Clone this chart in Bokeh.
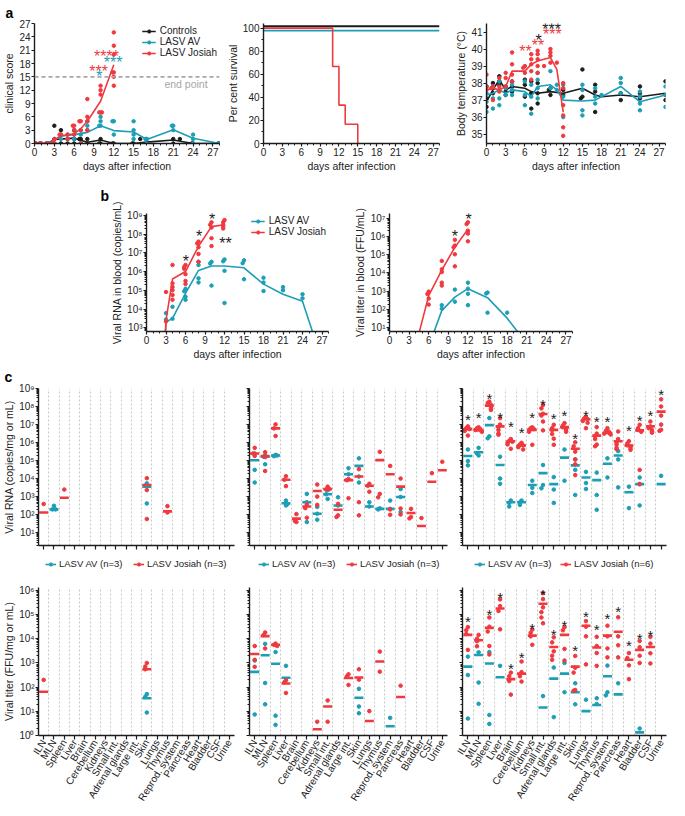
import math
from bokeh.plotting import figure
from bokeh.layouts import column, row
from bokeh.models import (FixedTicker, Span, Label, LabelSet, Legend, LegendItem,
                          CustomJSTickFormatter, ColumnDataSource, Range1d)
from bokeh.core.properties import value
from bokeh.embed import file_html
from bokeh.resources import INLINE

FONT = "Liberation Sans"
TEAL = "#1c9eb6"
RED = "#f0393e"
BLACK = "#1c1c1c"
GREY = "#a6a6a6"
NAN = float("nan")

# ======================= DATA =======================
DAY_TICKS = list(range(0, 28, 3))

# ---- a1: clinical score, individual animals per day ----
score_ctrl = {0: [0, 0, 0], 1: [0, 0], 2: [0, 0], 3: [4, 1, 0], 4: [3, 0], 5: [1, 0], 6: [3, 1, 0],
              7: [1, 1, 0], 8: [1, 0], 10: [1, 0, 0], 12: [0, 0], 15: [0, 0], 16: [1], 17: [1, 0],
              21: [1, 0], 22: [1], 24: [0, 0], 28: [0, 0, 0]}
score_av = {0: [0, 0, 0], 1: [0, 0], 2: [0, 0], 3: [0, 0], 4: [2, 1], 5: [2, 1], 6: [3, 2, 1],
            7: [3, 2, 0], 8: [5, 4, 3], 10: [6, 5, 4, 4], 12: [5, 5, 2], 15: [5, 3, 2, 1],
            17: [1, 1, 0], 21: [4, 4, 3], 24: [2, 1, 0], 28: [0, 0]}
score_jo = {0: [0, 0, 0], 1: [0, 0], 2: [0, 0], 3: [1, 0], 4: [2, 2], 5: [2, 1], 6: [4, 4, 3, 2],
            7: [5, 5, 3, 0], 8: [10, 6, 5, 3], 10: [13, 12, 11, 7, 7, 7],
            12: [25, 22, 20, 16, 16, 15, 13]}
score_days_ctrl = [0, 2, 3, 6, 8, 10, 12, 15, 17, 21, 24, 28]
score_mean_ctrl = [0, 0, 0.9, 1.2, 0.3, 0.8, 0, 0, 0.3, 0.8, 0, 0]
score_days_av = [0, 2, 4, 6, 8, 10, 12, 15, 17, 21, 24, 28]
score_mean_av = [0, 0, 1.7, 2.0, 2.5, 4.0, 2.9, 2.6, 0.9, 3.1, 1.2, 0]
score_days_jo = [0, 2, 3, 4, 6, 7, 8, 10, 12]
score_mean_jo = [0, 0, 0.7, 1.7, 2.2, 3.3, 5.0, 9.5, 17.7]
score_star_x = [9.7, 9.8, 10.9, 11.9]
score_star_y = [17.2, 15.9, 20.4, 19.1]
score_star_t = ["***", "*", "****", "***"]
score_star_c = [RED, TEAL, RED, TEAL]
END_POINT = 15

# ---- a2: survival ----
surv_days_ctrl = [0, 28]
surv_ctrl = [100, 100]
surv_days_av = [0, 28]
surv_av = [100, 100]
surv_days_jo = [0, 11, 12, 13, 15]
surv_jo = [100, 66.7, 33.3, 16.7, 0]
SURV_OFFSET = {"ctrl": 1.6, "av": -2.2, "jo": 0.0}

# ---- a3: body temperature ----
temp_ctrl = {0: [36.6, 37.8, 37.1], 1: [38.0, 37.7, 37.4], 2: [38.4, 38.1, 37.9], 3: [37.3, 37.8, 37.5],
             4: [38.1, 37.8, 37.5], 6: [38.2, 37.9, 37.2], 7: [38.1, 37.4, 36.5], 8: [38.0, 37.4, 36.8],
             10: [37.7, 37.6, 37.3], 12: [37.6, 37.3], 15: [38.8, 37.2, 37.1], 17: [37.9, 37.5, 36.3],
             21: [37.4, 37.0], 24: [37.8, 37.4, 37.1], 28: [38.1, 37.3, 37.0]}
temp_av = {0: [37.4, 36.9, 36.3], 1: [37.8, 37.1, 36.5], 2: [38.1, 37.6, 37.1, 36.7], 3: [37.7, 37.3],
           4: [37.9, 37.6, 37.3], 6: [38.1, 37.3, 36.7], 7: [37.9, 37.2, 36.2], 8: [38.6, 38.2, 37.7, 37.1],
           10: [38.7, 37.7], 11: [37.9, 37.6], 12: [37.9, 37.2, 36.0], 15: [37.9, 37.6, 36.4, 36.1],
           17: [37.7, 37.2, 36.8], 18: [37.3], 21: [38.3, 38.0, 37.4], 24: [37.5, 37.2, 36.8, 36.4],
           28: [37.8, 37.3, 36.6]}
temp_jo = {0: [38.5, 37.8, 37.6], 1: [37.8, 37.7, 37.0], 2: [38.3, 37.8, 37.5], 3: [38.6, 38.3, 37.8],
           4: [39.8, 39.1, 38.5, 38.1], 6: [39.0, 38.9, 38.6], 7: [39.7, 39.4, 39.1, 38.7, 38.2],
           8: [39.9, 39.7, 39.4, 39.0, 38.6], 9: [39.0], 10: [40.0, 39.8, 39.6, 39.2], 11: [39.2],
           12: [38.0, 37.7, 36.7, 36.1, 35.4, 34.9]}
temp_days_ctrl = [0, 1, 2, 3, 4, 6, 7, 8, 10, 12, 15, 17, 18, 21, 24, 28]
temp_mean_ctrl = [36.9, 37.6, 38.2, 37.6, 37.8, 37.7, 37.5, 37.4, 37.5, 37.4, 37.7, 37.3, 37.2, 37.3, 37.2, 37.4]
temp_days_av = [0, 1, 2, 3, 4, 6, 7, 8, 10, 11, 12, 15, 17, 21, 24, 28]
temp_mean_av = [37.3, 37.4, 37.6, 37.4, 37.6, 37.5, 37.2, 37.8, 37.9, 37.6, 37.0, 36.95, 37.0, 37.8, 36.9, 37.3]
temp_days_jo = [0, 1, 2, 3, 4, 6, 7, 8, 10, 11, 12]
temp_mean_jo = [37.6, 37.7, 37.6, 37.8, 38.7, 38.7, 39.1, 39.3, 39.5, 38.8, 36.3]
temp_star_x = [6.1, 8.05, 8.15, 10.2, 10.3]
temp_star_y = [40.09, 40.47, 40.75, 41.38, 41.08]
temp_star_t = ["**", "**", "*", "***", "***"]
temp_star_c = [RED, RED, BLACK, BLACK, RED]

# ---- b1: viral RNA in blood (log10 copies/mL) ----
rna_blood_av = {3: [3.78, 3.44], 4: [4.12, 3.48], 6: [5.08, 4.95, 4.66, 4.49], 8: [6.52, 6.35, 5.64, 5.42],
                10: [6.52, 6.43, 5.25], 12: [6.65, 6.55, 6.04, 4.32], 15: [6.6, 6.45, 5.59],
                18: [5.67, 5.42, 4.96], 21: [5.17, 5.0], 24: [4.79, 4.57]}
rna_blood_jo = {3: [4.91, 3.34], 4: [6.35, 5.37, 5.17, 5.0, 4.75, 4.5], 6: [6.35, 6.25, 6.15, 5.86, 5.5, 5.34],
                8: [7.6, 7.5, 7.3, 6.94, 6.52], 10: [8.63, 8.5, 8.35, 7.78, 7.36],
                12: [8.75, 8.63, 8.5, 8.4, 8.3]}
rna_days_av = [2.8, 3, 4, 6, 8, 10, 12, 15, 18, 21, 24, 26]
rna_mean_av = [2.0, 3.3, 3.5, 4.83, 6.06, 6.3, 6.3, 6.2, 5.33, 4.79, 4.41, 2.3]
rna_days_jo = [2.8, 3, 4, 6, 8, 10, 12]
rna_mean_jo = [2.0, 3.4, 5.6, 6.0, 7.35, 8.4, 8.5]
rna_star_x = [6.05, 8.08, 10.1, 12.15]
rna_star_y = [6.77, 8.07, 9.0, 7.73]
rna_star_t = ["*", "*", "*", "**"]

# ---- b2: viral titer in blood (log10 FFU/mL) ----
tit_blood_av = {8: [2.24, 2.05], 10: [3.09, 2.43], 12: [3.47, 3.14, 2.86, 2.24], 15: [2.93, 2.88, 1.83],
                18: [1.83]}
tit_blood_jo = {6: [2.98, 2.85, 2.6, 2.27], 8: [4.66, 4.2, 4.05, 3.47, 3.31], 10: [5.81, 5.5, 5.4, 5.02, 4.36],
                12: [6.77, 6.67, 6.31, 6.15, 5.73]}
tit_days_av = [6, 8, 10, 12, 15, 18, 20]
tit_mean_av = [0.0, 1.94, 2.68, 3.14, 2.65, 1.53, 0.6]
tit_days_jo = [4, 6, 8, 10, 12]
tit_mean_jo = [0.0, 2.76, 4.16, 5.40, 6.39]
tit_star_x = [10.0, 12.1]
tit_star_y = [6.23, 7.13]
tit_star_t = ["*", "*"]

# ---- c: tissues ----
TISSUES = ["ILN", "MLN", "Spleen", "Liver", "Brain", "Cerebellum", "Kidneys", "Small int.",
           "Adrenal glands", "Large int.", "Skin", "Lungs", "Thymus", "Reprod. system",
           "Pancreas", "Heart", "Bladder", "CSF", "Urine"]

# viral RNA, log10 copies/mg or mL  (left / middle / right columns)
rna1_av = {"MLN": [2.5, 2.3, 2.3], "Skin": [3.74, 3.61, 2.63]}
rna1_av_bar = {"MLN": 2.3, "Skin": 3.56}
rna1_jo = {"ILN": [2.6], "Spleen": [3.4], "Skin": [4.03, 3.37, 1.77], "Thymus": [2.48, 2.13]}
rna1_jo_bar = {"ILN": 2.13, "Spleen": 2.95, "Skin": 3.65, "Thymus": 2.19}

rna2_av = {"ILN": [5.40, 4.49, 3.79], "MLN": [5.29, 4.80, 5.22], "Spleen": [5.32, 5.25, 5.29],
           "Liver": [2.79, 2.52, 2.6], "Cerebellum": [3.16, 2.7, 1.60], "Kidneys": [2.44, 1.73, 2.06],
           "Small int.": [3.36, 2.88, 3.14], "Adrenal glands": [2.97, 2.52], "Large int.": [4.58, 4.25],
           "Skin": [5.13, 4.12, 3.79], "Lungs": [2.70, 2.46], "Thymus": [2.36, 2.30],
           "Reprod. system": [2.79, 2.33], "Pancreas": [3.43, 2.15, 2.99]}
rna2_av_bar = {"ILN": 5.02, "MLN": 5.22, "Spleen": 5.29, "Liver": 2.64, "Cerebellum": 2.70, "Kidneys": 2.06,
               "Small int.": 3.14, "Adrenal glands": 2.52, "Large int.": 4.25, "Skin": 4.71, "Lungs": 2.46,
               "Thymus": 2.33, "Reprod. system": 2.33, "Pancreas": 2.99}
rna2_jo = {"ILN": [5.71, 5.26, 5.4], "MLN": [5.47, 4.43, 5.2], "Spleen": [7.01, 6.37, 6.79],
           "Liver": [4.14, 3.59, 3.94], "Brain": [2.04, 1.60, 1.66], "Cerebellum": [2.57, 2.37, 1.84],
           "Kidneys": [3.68, 3.01, 2.55], "Small int.": [3.56, 3.40, 3.43], "Adrenal glands": [2.61, 1.97, 1.88],
           "Large int.": [3.98, 2.92, 3.92], "Skin": [4.53, 2.70, 1.97], "Lungs": [3.72, 3.28, 3.61],
           "Thymus": [5.49, 3.16, 2.97], "Reprod. system": [4.71, 2.30, 2.00], "Pancreas": [4.01, 2.35, 2.02],
           "Heart": [2.33, 1.88, 1.80], "Bladder": [1.82], "CSF": [4.31], "Urine": [4.94]}
rna2_jo_bar = {"ILN": 5.40, "MLN": 5.26, "Spleen": 6.79, "Liver": 3.94, "Brain": 1.79, "Cerebellum": 2.46,
               "Kidneys": 3.32, "Small int.": 3.43, "Adrenal glands": 2.28, "Large int.": 3.92, "Skin": 4.12,
               "Lungs": 3.61, "Thymus": 5.03, "Reprod. system": 4.25, "Pancreas": 3.56, "Heart": 2.10,
               "Bladder": 1.38, "CSF": 3.83, "Urine": 4.47}

rna3_av = {"ILN": [5.62, 4.98, 4.74], "MLN": [5.71, 5.29, 5.4], "Spleen": [7.36, 6.35, 6.24],
           "Liver": [5.22, 4.01, 3.72], "Brain": [2.79, 2.66, 2.46], "Cerebellum": [2.79, 2.7, 2.55],
           "Kidneys": [3.89, 3.5, 3.21], "Small int.": [4.76, 3.65, 3.47], "Adrenal glands": [4.09, 3.40, 2.66],
           "Large int.": [5.62, 3.89], "Skin": [5.07, 4.49, 3.10], "Lungs": [4.38, 3.76, 3.43],
           "Thymus": [4.34, 3.10, 2.28], "Reprod. system": [5.13, 4.07], "Pancreas": [5.53, 5.07, 3.52],
           "Heart": [3.56, 2.37], "Bladder": [4.07, 3.70, 2.52], "Urine": [4.16]}
rna3_av_bar = {"ILN": 5.26, "MLN": 5.47, "Spleen": 6.97, "Liver": 4.76, "Brain": 2.70, "Cerebellum": 2.70,
               "Kidneys": 3.65, "Small int.": 4.31, "Adrenal glands": 3.70, "Large int.": 5.17, "Skin": 4.74,
               "Lungs": 4.07, "Thymus": 3.92, "Reprod. system": 4.83, "Pancreas": 5.29, "Heart": 3.25,
               "Bladder": 3.70, "Urine": 3.70}
rna3_jo = {"ILN": [6.9, 6.8, 6.75, 6.7, 6.65, 6.39], "MLN": [6.85, 6.8, 6.75, 6.7, 6.65, 6.6],
           "Spleen": [8.27, 8.2, 8.1, 8.0, 7.9, 7.81], "Liver": [7.36, 7.0, 6.85, 6.7, 6.5, 6.44],
           "Brain": [6.2, 6.1, 6.05, 6.0, 5.9, 5.66], "Cerebellum": [5.99, 5.9, 5.85, 5.8, 5.75, 5.62],
           "Kidneys": [6.85, 6.8, 6.75, 6.7, 6.6, 5.88], "Small int.": [8.09, 7.9, 7.6, 7.5, 7.17, 6.68],
           "Adrenal glands": [6.99, 6.8, 6.7, 6.48, 6.22, 5.88], "Large int.": [7.08, 6.95, 6.85, 6.8, 6.7, 6.6],
           "Skin": [6.02, 5.8, 5.5, 5.07, 4.8, 4.20], "Lungs": [7.41, 7.35, 7.3, 7.2, 7.1, 6.80],
           "Thymus": [6.86, 6.5, 6.35, 6.2, 5.89, 5.8], "Reprod. system": [6.80, 6.65, 6.6, 6.55, 6.5, 6.45],
           "Pancreas": [6.62, 6.2, 6.0, 5.88, 5.7, 5.64], "Heart": [6.08, 5.95, 5.85, 5.8, 5.7, 5.6],
           "Bladder": [6.99, 6.8, 6.7, 6.6, 4.49, 3.7], "CSF": [7.17, 6.9, 6.8, 6.7, 6.62, 6.55],
           "Urine": [8.40, 8.0, 7.5, 7.0, 6.71, 6.65]}
rna3_jo_bar = {"ILN": 6.75, "MLN": 6.68, "Spleen": 8.05, "Liver": 6.90, "Brain": 6.08, "Cerebellum": 5.84,
               "Kidneys": 6.71, "Small int.": 7.59, "Adrenal glands": 6.71, "Large int.": 6.86, "Skin": 5.66,
               "Lungs": 7.30, "Thymus": 6.39, "Reprod. system": 6.53, "Pancreas": 6.08, "Heart": 5.84,
               "Bladder": 6.68, "CSF": 6.90, "Urine": 7.72}
rna3_stars = {"ILN": 7.51, "MLN": 7.64, "Spleen": 8.64, "Liver": 7.64, "Brain": 7.10, "Cerebellum": 6.79,
              "Kidneys": 7.64, "Small int.": 8.31, "Adrenal glands": 7.55, "Large int.": 7.73, "Skin": 6.46,
              "Lungs": 7.75, "Thymus": 7.38, "Reprod. system": 7.38, "Heart": 6.90, "Bladder": 7.46,
              "CSF": 7.75, "Urine": 8.89}

# viral titer, log10 FFU/mg or mL
tit1_av = {"Skin": [1.71, 1.6, 0.95]}
tit1_av_bar = {"Skin": 1.54}
tit1_jo = {"ILN": [2.30], "Skin": [3.0, 2.85, 2.74]}
tit1_jo_bar = {"ILN": 1.81, "Skin": 2.74}

tit2_av = {"ILN": [3.10, 0.87], "MLN": [3.79, 2.17, 1.29], "Spleen": [3.45, 0.82, 0.44], "Liver": [2.88],
           "Skin": [1.93, 1.20, 0.92], "Reprod. system": [0.73]}
tit2_av_bar = {"ILN": 2.63, "MLN": 3.32, "Spleen": 2.97, "Liver": 2.39, "Skin": 1.56, "Reprod. system": 0.38}
tit2_jo = {"ILN": [3.70, 3.13, 2.84], "MLN": [4.26, 4.15, 3.60], "Spleen": [3.80, 3.75, 3.70],
           "Liver": [2.28, 2.20, 1.76], "Kidneys": [0.57], "Small int.": [1.45, 0.57],
           "Large int.": [2.53, 2.09, 2.45], "Skin": [2.74, 2.31], "Lungs": [1.01], "Thymus": [3.47, 2.64],
           "Pancreas": [2.06]}
tit2_jo_bar = {"ILN": 3.37, "MLN": 4.11, "Spleen": 3.75, "Liver": 2.15, "Kidneys": 0.26, "Small int.": 1.20,
               "Large int.": 2.38, "Skin": 2.40, "Lungs": 0.60, "Thymus": 3.06, "Pancreas": 1.59}

tit3_av = {"ILN": [3.26, 2.50, 0.70], "MLN": [3.44, 2.19, 1.31], "Spleen": [3.45, 0.85, 0.48], "Liver": [2.88],
           "Small int.": [1.63], "Adrenal glands": [2.81, 0.76], "Large int.": [3.0, 1.79], "Skin": [2.16, 1.29],
           "Lungs": [1.48], "Thymus": [1.54, 1.3], "Reprod. system": [2.89, 1.79, 1.66], "Pancreas": [2.16],
           "Bladder": [0.29]}
tit3_av_bar = {"ILN": 2.85, "MLN": 3.33, "Spleen": 2.98, "Liver": 2.41, "Small int.": 1.16,
               "Adrenal glands": 2.35, "Large int.": 2.56, "Skin": 1.79, "Lungs": 1.01, "Thymus": 1.26,
               "Reprod. system": 2.45, "Pancreas": 1.70, "Bladder": 0.13}
tit3_jo = {"ILN": [4.48, 4.35, 4.20, 3.54], "MLN": [4.16, 4.0, 3.9, 3.69], "Spleen": [4.88, 4.50, 4.30, 3.70, 3.35],
           "Liver": [5.63, 5.35, 5.15, 4.39], "Brain": [2.60, 2.45, 2.25, 1.69], "Cerebellum": [3.06, 2.62, 2.45, 2.23],
           "Kidneys": [4.38, 4.25, 4.10, 3.75], "Small int.": [5.89, 5.64, 5.30, 5.10, 4.88, 4.64],
           "Adrenal glands": [4.06, 3.85, 3.48, 3.30, 3.13], "Large int.": [4.48, 4.35, 3.58, 3.10],
           "Skin": [3.29, 2.80, 2.60, 1.88, 1.85], "Lungs": [4.73, 4.50, 4.10, 2.94], "Thymus": [4.08, 3.70, 3.41, 2.88],
           "Reprod. system": [4.54, 4.10, 3.60, 3.23], "Pancreas": [4.89, 4.10, 3.73, 3.23],
           "Heart": [3.41, 3.20, 2.90, 2.33], "Bladder": [3.91, 3.65, 3.30, 3.0], "CSF": [4.08, 3.80, 3.40, 2.98]}
tit3_jo_bar = {"ILN": 4.16, "MLN": 3.94, "Spleen": 4.45, "Liver": 5.25, "Brain": 2.33, "Cerebellum": 2.56,
               "Kidneys": 4.13, "Small int.": 5.45, "Adrenal glands": 3.66, "Large int.": 4.16, "Skin": 2.85,
               "Lungs": 4.54, "Thymus": 3.64, "Reprod. system": 4.13, "Pancreas": 4.29, "Heart": 3.13,
               "Bladder": 3.54, "CSF": 3.66}
tit3_stars = {"ILN": 4.89, "Spleen": 5.16, "Liver": 5.89, "Brain": 2.94, "Cerebellum": 3.41, "Kidneys": 4.6,
              "Small int.": 6.0, "Adrenal glands": 4.33, "Large int.": 4.73, "Skin": 3.69, "Lungs": 5.08,
              "Thymus": 4.56, "Reprod. system": 5.01, "Pancreas": 5.29, "Heart": 3.89, "Bladder": 4.16,
              "CSF": 4.31}

# ======================= HELPERS =======================
SUP_JS = """
const s = {'0':'\u2070','1':'\u00b9','2':'\u00b2','3':'\u00b3','4':'\u2074','5':'\u2075',
           '6':'\u2076','7':'\u2077','8':'\u2078','9':'\u2079','-':'\u207b'};
const e = Math.round(Math.log10(tick));
return '10' + String(e).split('').map(c => s[c]).join('');
"""
BLANK_JS = "return '';"


def log_ticker(lo, hi):
    majors = [10.0 ** k for k in range(lo, hi + 1)]
    minors = [m * 10.0 ** k for k in range(lo - 1, hi + 1) for m in range(2, 10)]
    return FixedTicker(ticks=majors, minor_ticks=minors)


def make_fig(w, h, left, right, top, bottom, xr, yr, ylog=False):
    p = figure(width=w, height=h, x_range=Range1d(*xr), y_range=Range1d(*yr),
               y_axis_type="log" if ylog else "linear",
               output_backend="svg", toolbar_location=None,
               min_border_left=left, min_border_right=right,
               min_border_top=top, min_border_bottom=bottom)
    p.outline_line_color = None
    p.xgrid.visible = False
    p.ygrid.visible = False
    for ax in p.axis:
        ax.axis_line_color = BLACK
        ax.axis_line_width = 1.4
        ax.major_tick_line_color = BLACK
        ax.major_tick_line_width = 1.2
        ax.minor_tick_line_color = BLACK
        ax.major_tick_in = 0
        ax.major_tick_out = 3
        ax.minor_tick_in = 0
        ax.minor_tick_out = 2
        ax.major_label_text_font = FONT
        ax.major_label_text_font_size = "10px"
        ax.major_label_text_color = "#222222"
        ax.axis_label_text_font = FONT
        ax.axis_label_text_font_size = "10.5px"
        ax.axis_label_text_font_style = "normal"
        ax.axis_label_text_color = "#222222"
        ax.major_label_standoff = 1
        ax.axis_label_standoff = 1
    return p


def spread_points(groups, thresh, step, log=False):
    pattern = [0, -1, 1, -2, 2, 0.5, -0.5, 1.5]
    xs, ys = [], []
    for x0, vals in groups:
        placed = []
        for v in vals:
            k = sum(1 for u in placed if abs(u - v) < thresh)
            placed.append(v)
            xs.append(x0 + pattern[k % len(pattern)] * step)
            ys.append(10 ** v if log else v)
    return xs, ys


def set_letter(p, txt, offset, standoff):
    p.title.text = txt
    p.title.align = "left"
    p.title.offset = offset
    p.title.standoff = standoff
    p.title.text_font = FONT
    p.title.text_font_size = "14px"
    p.title.text_font_style = "bold"
    p.title.text_color = "#000000"


def add_stars(p, xs, ys, ts, cs, size="16px"):
    src = ColumnDataSource(dict(x=xs, y=ys, t=ts, c=cs))
    p.add_layout(LabelSet(x="x", y="y", text="t", source=src, text_color="c", text_align="center",
                          text_baseline="middle", text_font=value(FONT), text_font_size=size,
                          y_offset=-4))


def style_legend(leg, size="10px"):
    leg.label_text_font = FONT
    leg.label_text_font_size = size
    leg.label_text_color = "#222222"
    leg.border_line_color = None
    leg.background_fill_alpha = 0
    leg.glyph_width = 14
    leg.glyph_height = 8
    leg.label_height = 8
    leg.spacing = 0
    leg.padding = 0
    leg.margin = 2
    leg.label_standoff = 4


# ======================= PANEL a =======================
H_A = 176
a1 = make_fig(223, H_A, 31, 4, 19, 33, (0, 28), (0, 27))
a1.xaxis.ticker = FixedTicker(ticks=DAY_TICKS, minor_ticks=list(range(0, 29)))
a1.yaxis.ticker = FixedTicker(ticks=list(range(0, 28, 3)))
a1.xaxis.axis_label = "days after infection"
a1.yaxis.axis_label = "clinical score"
a1.add_layout(Span(location=END_POINT, dimension="width", line_color=GREY, line_dash="4 3", line_width=1.6))
a1.add_layout(Label(x=26.2, y=13.3, text="end point", text_align="right", text_baseline="middle",
                    text_font=FONT, text_font_size="10.5px", text_color=GREY))
a1_items = []
for name, pts, dys, mean, col in [("Controls", score_ctrl, score_days_ctrl, score_mean_ctrl, BLACK),
                                  ("LASV AV", score_av, score_days_av, score_mean_av, TEAL),
                                  ("LASV Josiah", score_jo, score_days_jo, score_mean_jo, RED)]:
    xs, ys = spread_points(list(pts.items()), 0.5, 0.2)
    sr = a1.scatter(xs, ys, size=3.5, color=col)
    lr = a1.line(dys, mean, line_color=col, line_width=1.6)
    a1_items.append(LegendItem(label=name, renderers=[lr, sr]))
add_stars(a1, score_star_x, score_star_y, score_star_t, score_star_c)
leg = Legend(items=a1_items, location="top_right")
style_legend(leg)
a1.add_layout(leg)
set_letter(a1, "a", -29, 5)

a2 = make_fig(223, H_A, 33, 7, 18, 33, (0, 28), (0, 104))
a2.xaxis.ticker = FixedTicker(ticks=DAY_TICKS, minor_ticks=list(range(0, 29)))
a2.yaxis.ticker = FixedTicker(ticks=list(range(0, 101, 20)), minor_ticks=list(range(0, 101, 10)))
a2.xaxis.axis_label = "days after infection"
a2.yaxis.axis_label = "Per cent survival"
a2.line(surv_days_ctrl, [v + SURV_OFFSET["ctrl"] for v in surv_ctrl], line_color=BLACK, line_width=1.8)
a2.line(surv_days_av, [v + SURV_OFFSET["av"] for v in surv_av], line_color=TEAL, line_width=1.8)
a2.step(surv_days_jo, [v + SURV_OFFSET["jo"] for v in surv_jo], mode="after", line_color=RED, line_width=1.6)

a3 = make_fig(223, H_A, 40, 4, 18, 33, (0, 28), (34.45, 41.5))
a3.xaxis.ticker = FixedTicker(ticks=DAY_TICKS, minor_ticks=list(range(0, 29)))
a3.yaxis.ticker = FixedTicker(ticks=list(range(35, 42)))
a3.xaxis.axis_label = "days after infection"
a3.yaxis.axis_label = "Body temperature (\u00b0C)"
for pts, dys, mean, col in [(temp_ctrl, temp_days_ctrl, temp_mean_ctrl, BLACK),
                            (temp_av, temp_days_av, temp_mean_av, TEAL),
                            (temp_jo, temp_days_jo, temp_mean_jo, RED)]:
    xs, ys = spread_points(list(pts.items()), 0.12, 0.25)
    a3.scatter(xs, ys, size=3.5, color=col)
    a3.line(dys, mean, line_color=col, line_width=1.6)
add_stars(a3, temp_star_x, temp_star_y, temp_star_t, temp_star_c)

# ======================= PANEL b =======================
H_B = 186
b1 = make_fig(340, H_B, 146, 12, 33, 29, (0, 28), (10 ** 2.8, 10 ** 9.1), ylog=True)
b1.xaxis.ticker = FixedTicker(ticks=DAY_TICKS, minor_ticks=list(range(0, 29)))
b1.yaxis.ticker = log_ticker(3, 9)
b1.yaxis.formatter = CustomJSTickFormatter(code=SUP_JS)
b1.xaxis.axis_label = "days after infection"
b1.yaxis.axis_label = "Viral RNA in blood (copies/mL)"
b1_items = []
for name, pts, dys, mean, col in [("LASV AV", rna_blood_av, rna_days_av, rna_mean_av, TEAL),
                                  ("LASV Josiah", rna_blood_jo, rna_days_jo, rna_mean_jo, RED)]:
    xs, ys = spread_points(list(pts.items()), 0.15, 0.2, log=True)
    sr = b1.scatter(xs, ys, size=3.5, color=col)
    lr = b1.line(dys, [10 ** v for v in mean], line_color=col, line_width=1.6)
    b1_items.append(LegendItem(label=name, renderers=[lr, sr]))
add_stars(b1, rna_star_x, [10 ** v for v in rna_star_y], rna_star_t, [BLACK] * len(rna_star_t))
leg = Legend(items=b1_items, location="top_right")
style_legend(leg)
b1.add_layout(leg)
set_letter(b1, "b", -46, 19)

b2 = make_fig(329, H_B, 49, 97, 25, 31, (0, 28), (10 ** 0.8, 10 ** 7.25), ylog=True)
b2.xaxis.ticker = FixedTicker(ticks=DAY_TICKS, minor_ticks=list(range(0, 29)))
b2.yaxis.ticker = log_ticker(1, 7)
b2.yaxis.formatter = CustomJSTickFormatter(code=SUP_JS)
b2.xaxis.axis_label = "days after infection"
b2.yaxis.axis_label = "Viral titer in blood (FFU/mL)"
for pts, dys, mean, col in [(tit_blood_av, tit_days_av, tit_mean_av, TEAL),
                            (tit_blood_jo, tit_days_jo, tit_mean_jo, RED)]:
    xs, ys = spread_points(list(pts.items()), 0.15, 0.2, log=True)
    b2.scatter(xs, ys, size=3.5, color=col)
    b2.line(dys, [10 ** v for v in mean], line_color=col, line_width=1.6)
add_stars(b2, tit_star_x, [10 ** v for v in tit_star_y], tit_star_t, [BLACK] * len(tit_star_t))


# ======================= PANEL c =======================
def c_panel(w, h, left, right, top, bottom, yr, ticks, av, av_bar, jo, jo_bar, stars=None,
            ylabel=None, show_y=True, show_x=False):
    p = make_fig(w, h, left, right, top, bottom, (-0.5, 18.5), (10 ** yr[0], 10 ** yr[1]), ylog=True)
    p.xgrid.visible = True
    p.xgrid.ticker = FixedTicker(ticks=[i + 0.5 for i in range(19)])
    p.xgrid.grid_line_color = "#c8c8c8"
    p.xgrid.grid_line_dash = "2 2"
    p.xgrid.grid_line_width = 1
    p.xaxis.ticker = FixedTicker(ticks=list(range(19)))
    p.yaxis.ticker = log_ticker(*ticks)
    p.yaxis.formatter = CustomJSTickFormatter(code=SUP_JS if show_y else BLANK_JS)
    p.xaxis.major_tick_out = 4
    if show_x:
        p.xaxis.major_label_overrides = {i: t for i, t in enumerate(TISSUES)}
        p.xaxis.major_label_orientation = math.radians(58)
        p.xaxis.major_label_text_font_size = "10px"
    else:
        p.xaxis.formatter = CustomJSTickFormatter(code=BLANK_JS)
        p.xaxis.major_label_standoff = 0
        p.xaxis.major_label_text_font_size = "1px"
    if not show_y:
        p.yaxis.major_label_standoff = 0
        p.yaxis.major_label_text_font_size = "1px"
    if ylabel:
        p.yaxis.axis_label = ylabel
    for pts, bars, col in [(av, av_bar, TEAL), (jo, jo_bar, RED)]:
        groups = [(TISSUES.index(t), v) for t, v in pts.items()]
        xs, ys = spread_points(groups, 0.22, 0.15, log=True)
        bx = [TISSUES.index(t) for t in bars]
        by = [10 ** v for v in bars.values()]
        p.scatter(bx, by, marker="dash", size=9, line_color=col, line_width=2.6)
        p.scatter(xs, ys, size=3.6, color=col)
    if stars:
        sx = [TISSUES.index(t) for t in stars]
        sy = [10 ** v for v in stars.values()]
        add_stars(p, sx, sy, ["*"] * len(sx), [BLACK] * len(sx), size="15px")
    return p


def legend_strip(w, h, x_av, x_jo, n_jo):
    p = figure(width=w, height=h, x_range=Range1d(0, 1), y_range=Range1d(0, 1),
               output_backend="svg", toolbar_location=None,
               x_axis_location=None, y_axis_location=None,
               min_border_left=0, min_border_right=0, min_border_top=0, min_border_bottom=0)
    p.outline_line_color = None
    p.xgrid.visible = False
    p.ygrid.visible = False
    for label, col, x0 in [("LASV AV (n=3)", TEAL, x_av), ("LASV Josiah (n=%d)" % n_jo, RED, x_jo)]:
        # legend proxies (NaN positions: nothing is drawn in the plot area)
        lr = p.line([NAN, NAN], [NAN, NAN], line_color=col, line_width=1.6)
        sr = p.scatter([NAN], [NAN], size=3.6, color=col)
        leg = Legend(items=[LegendItem(label=label, renderers=[lr, sr])], location=(x0, 6))
        style_legend(leg, "9.5px")
        leg.glyph_width = 11
        leg.label_standoff = 3
        p.add_layout(leg)
    return p


H_CT, H_L, H_CB = 189, 24, 233
c1t = c_panel(238, H_CT, 36, 4, 24, 6, (0.3, 9), (1, 9), rna1_av, rna1_av_bar, rna1_jo, rna1_jo_bar,
              ylabel="Viral RNA (copies/mg or mL)")
c2t = c_panel(214, H_CT, 11, 5, 24, 6, (0.3, 9), (1, 9), rna2_av, rna2_av_bar, rna2_jo, rna2_jo_bar,
              show_y=False)
c3t = c_panel(217, H_CT, 10, 3, 24, 6, (0.3, 9), (1, 9), rna3_av, rna3_av_bar, rna3_jo, rna3_jo_bar,
              stars=rna3_stars, show_y=False)
set_letter(c1t, "c", -34, 8)

l1 = legend_strip(238, H_L, 45, 133, 3)
l2 = legend_strip(214, H_L, 20, 108, 3)
l3 = legend_strip(217, H_L, 22, 108, 6)

c1b = c_panel(238, H_CB, 36, 4, 12, 60, (0, 6.12), (0, 6), tit1_av, tit1_av_bar, tit1_jo, tit1_jo_bar,
              ylabel="Viral titer (FFU/mg or mL)", show_x=True)
c2b = c_panel(214, H_CB, 11, 5, 12, 60, (0, 6.12), (0, 6), tit2_av, tit2_av_bar, tit2_jo, tit2_jo_bar,
              show_y=False, show_x=True)
c3b = c_panel(217, H_CB, 10, 3, 12, 60, (0, 6.12), (0, 6), tit3_av, tit3_av_bar, tit3_jo, tit3_jo_bar,
              stars=tit3_stars, show_y=False, show_x=True)

layout = column(row(a1, a2, a3), row(b1, b2), row(c1t, c2t, c3t), row(l1, l2, l3),
                row(c1b, c2b, c3b))

open("out.html", "w").write(file_html(layout, INLINE))
